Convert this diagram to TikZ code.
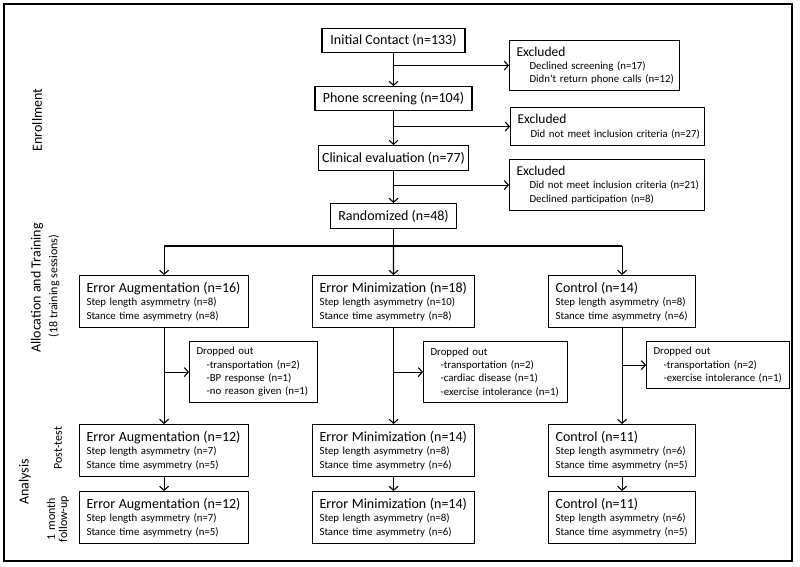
\documentclass[tikz,border=0pt]{standalone}
\usepackage{fontspec}
\setmainfont{Carlito}
\usetikzlibrary{arrows.meta}
\newcommand\boxtitle{\fontsize{14}{16}\selectfont}
\newcommand\sidefont{\fontsize{14}{16}\selectfont}
\newcommand\subsidefont{\fontsize{12}{14}\selectfont}
\newcommand\oneline[1]{\mbox{#1}}
\newcommand\exhead{\oneline{\fontsize{13.5}{15}\selectfont Excluded}}
\tikzset{
  every node/.style={font=\fontsize{10.8}{13.3}\selectfont},
  topbox/.style={draw, line width=1.1pt, anchor=north, align=center, inner xsep=0pt, inner ysep=0pt, font=\boxtitle},
  grp/.style={draw, line width=1.1pt, anchor=north west, align=left, inner xsep=7pt, inner ysep=0pt, minimum height=52pt},
  side/.style={draw, line width=1.1pt, anchor=north west, align=left, inner xsep=7pt, inner ysep=0pt},
  conn/.style={line width=1.1pt},
  arr/.style={line width=1.1pt, -{Straight Barb[length=4pt,width=9pt]}},
  lab/.style={rotate=90, align=center, inner sep=0pt}
}
\begin{document}
\begin{tikzpicture}[x=1pt,y=-1pt]
\useasboundingbox (0,0) rectangle (800,566);
\draw[line width=2pt] (4,4) rectangle (792,561);

% side labels
\node[lab, font=\sidefont] (l1) at (37,120) {Enrollment};
\node[lab, font=\sidefont] (l2) at (37,288) {Allocation and Training};
\node[lab, font=\subsidefont] (l3) at (54,286) {(18 training sessions)};
\node[lab, font=\sidefont] (l4) at (25,482) {Analysis};
\node[lab, font=\subsidefont] (l5) at (58,448) {Post-test};
\node[lab, font=\subsidefont, text width=60pt] (l6) at (58,519) {1 month\\[-2pt]follow-up};

% top column
\node[topbox, minimum width=143pt, minimum height=24pt] (ic) at (393.5,28) {Initial Contact (n=133)};
\node[topbox, minimum width=157pt, minimum height=24pt] (ps) at (393.5,86) {Phone screening (n=104)};
\node[topbox, minimum width=150pt, minimum height=25pt] (ce) at (393.5,145) {Clinical evaluation (n=77)};
\node[topbox, minimum width=126pt, minimum height=25pt] (rd) at (393.5,203) {Randomized (n=48)};

% excluded
\node[side, text width=156pt, minimum height=50pt] (ex1) at (509,40)
  {\exhead\\
   \oneline{\hspace*{13pt}Declined screening (n=17)}\\
   \oneline{\hspace*{13pt}Didn’t return phone calls (n=12)}};
\node[side, text width=180pt, minimum height=38pt] (ex2) at (510,107)
  {\exhead\\
   \oneline{\hspace*{13pt}Did not meet inclusion criteria (n=27)}};
\node[side, text width=181pt, minimum height=51pt] (ex3) at (509,159)
  {\exhead\\
   \oneline{\hspace*{13pt}Did not meet inclusion criteria (n=21)}\\
   \oneline{\hspace*{13pt}Declined participation (n=8)}};

\draw[arr] (ic.south) -- (ps.north);
\draw[arr] (ps.south) -- (ce.north);
\draw[arr] (ce.south) -- (rd.north);
\draw[arr] (ic.south |- ex1.west) -- (ex1.west);
\draw[arr] (ps.south |- ex2.west) -- (ex2.west);
\draw[arr] (ce.south |- ex3.west) -- (ex3.west);

% allocation row
\node[grp, text width=155pt] (ea1) at (79,275)
  {\oneline{\boxtitle Error Augmentation (n=16)}\\\oneline{Step length asymmetry (n=8)}\\\oneline{Stance time asymmetry (n=8)}};
\node[grp, text width=148pt] (em1) at (312,275)
  {\oneline{\boxtitle Error Minimization (n=18)}\\\oneline{Step length asymmetry (n=10)}\\\oneline{Stance time asymmetry (n=8)}};
\node[grp, text width=133pt] (c1) at (548,275)
  {\oneline{\boxtitle Control (n=14)}\\\oneline{Step length asymmetry (n=8)}\\\oneline{Stance time asymmetry (n=6)}};

\coordinate (br) at (393.5,246);
\draw[conn] (rd.south) -- (br);
\draw[conn] (ea1.north |- br) -- (c1.north |- br);
\draw[arr] (ea1.north |- br) -- (ea1.north);
\draw[arr] (br) -- (em1.north);
\draw[arr] (c1.north |- br) -- (c1.north);

% dropped out
\node[side, text width=114pt, minimum height=61pt] (d1) at (189,341)
  {\oneline{Dropped out}\\
   \oneline{\hspace*{10pt}-transportation (n=2)}\\
   \oneline{\hspace*{10pt}-BP response (n=1)}\\
   \oneline{\hspace*{10pt}-no reason given (n=1)}};
\node[side, text width=130pt, minimum height=61pt] (d2) at (423,341)
  {\oneline{Dropped out}\\
   \oneline{\hspace*{10pt}-transportation (n=2)}\\
   \oneline{\hspace*{10pt}-cardiac disease (n=1)}\\
   \oneline{\hspace*{10pt}-exercise intolerance (n=1)}};
\node[side, text width=129pt, minimum height=47pt] (d3) at (646,341)
  {\oneline{Dropped out}\\
   \oneline{\hspace*{10pt}-transportation (n=2)}\\
   \oneline{\hspace*{10pt}-exercise intolerance (n=1)}};

% post-test row
\node[grp, text width=155pt] (ea2) at (79,424)
  {\oneline{\boxtitle Error Augmentation (n=12)}\\\oneline{Step length asymmetry (n=7)}\\\oneline{Stance time asymmetry (n=5)}};
\node[grp, text width=148pt] (em2) at (312,424)
  {\oneline{\boxtitle Error Minimization (n=14)}\\\oneline{Step length asymmetry (n=8)}\\\oneline{Stance time asymmetry (n=6)}};
\node[grp, text width=133pt] (c2) at (548,424)
  {\oneline{\boxtitle Control (n=11)}\\\oneline{Step length asymmetry (n=6)}\\\oneline{Stance time asymmetry (n=5)}};

% follow-up row
\node[grp, text width=155pt] (ea3) at (79,491)
  {\oneline{\boxtitle Error Augmentation (n=12)}\\\oneline{Step length asymmetry (n=7)}\\\oneline{Stance time asymmetry (n=5)}};
\node[grp, text width=148pt] (em3) at (312,491)
  {\oneline{\boxtitle Error Minimization (n=14)}\\\oneline{Step length asymmetry (n=8)}\\\oneline{Stance time asymmetry (n=6)}};
\node[grp, text width=133pt] (c3) at (548,491)
  {\oneline{\boxtitle Control (n=11)}\\\oneline{Step length asymmetry (n=6)}\\\oneline{Stance time asymmetry (n=5)}};

\draw[arr] (ea1.south) -- (ea2.north);
\draw[arr] (em1.south) -- (em2.north);
\draw[arr] (c1.south) -- (c2.north);
\draw[arr] (ea1.south |- d1.west) -- (d1.west);
\draw[arr] (em1.south |- d2.west) -- (d2.west);
\draw[arr] (c1.south |- d3.west) -- (d3.west);
\draw[arr] (ea2.south) -- (ea3.north);
\draw[arr] (em2.south) -- (em3.north);
\draw[arr] (c2.south) -- (c3.north);
\end{tikzpicture}
\end{document}
